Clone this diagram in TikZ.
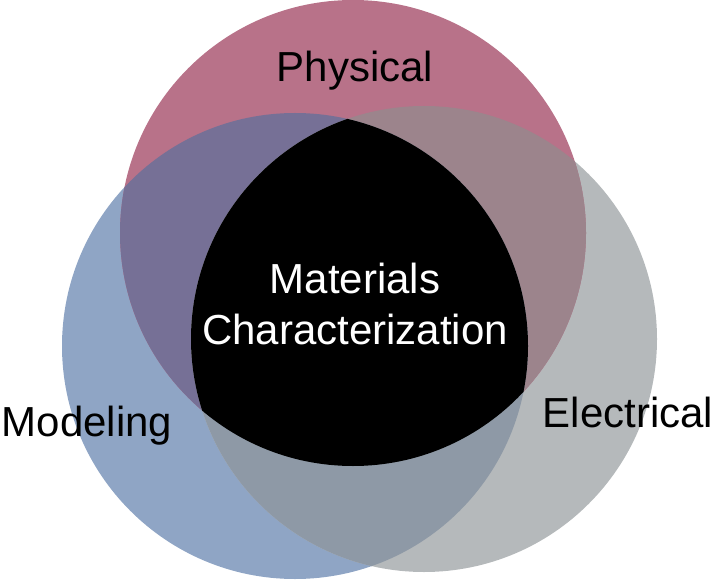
\documentclass[tikz,border=0pt]{standalone}
\usepackage{fontspec}
\setmainfont{Liberation Sans}
\usetikzlibrary{positioning}

\definecolor{physcol}{HTML}{B87289}
\definecolor{modelcol}{HTML}{8FA5C5}
\definecolor{eleccol}{HTML}{B5B9BB}
\definecolor{physmodel}{HTML}{767096}
\definecolor{physelec}{HTML}{9C848C}
\definecolor{modelelec}{HTML}{8E99A6}

\begin{document}
\begin{tikzpicture}[x=1pt, y=-1pt,
    lbl/.style={font=\fontsize{42}{51}\selectfont, inner sep=0pt, anchor=base},
    core/.style={lbl, text=white, align=center}
]
\useasboundingbox (0,0) rectangle (715,580);
\def\vennr{233pt}
% circle centres
\coordinate (phys) at (353,233);
\coordinate (model) at (295,346);
\coordinate (elec) at (424,339);

% single circles
\fill[modelcol] (model) circle[radius=\vennr];
\fill[eleccol] (elec) circle[radius=\vennr];
\fill[physcol] (phys) circle[radius=\vennr];

% pairwise overlaps
\begin{scope}
    \clip (phys) circle[radius=\vennr];
    \fill[physmodel] (model) circle[radius=\vennr];
    \fill[physelec] (elec) circle[radius=\vennr];
\end{scope}
\begin{scope}
    \clip (model) circle[radius=\vennr];
    \fill[modelelec] (elec) circle[radius=\vennr];
\end{scope}

% common core
\begin{scope}
    \clip (phys) circle[radius=\vennr];
    \clip (model) circle[radius=\vennr];
    \fill[black] (elec) circle[radius=\vennr];
\end{scope}

% Labels
\node[lbl] (physlbl) at (355,82) {Physical};
\node[lbl] (modellbl) at (87,436) {Modeling};
\node[lbl] (eleclbl) at (628,427) {Electrical};
\node[core] (corelbl) at (355,344) {Materials\\Characterization};
\end{tikzpicture}
\end{document}
